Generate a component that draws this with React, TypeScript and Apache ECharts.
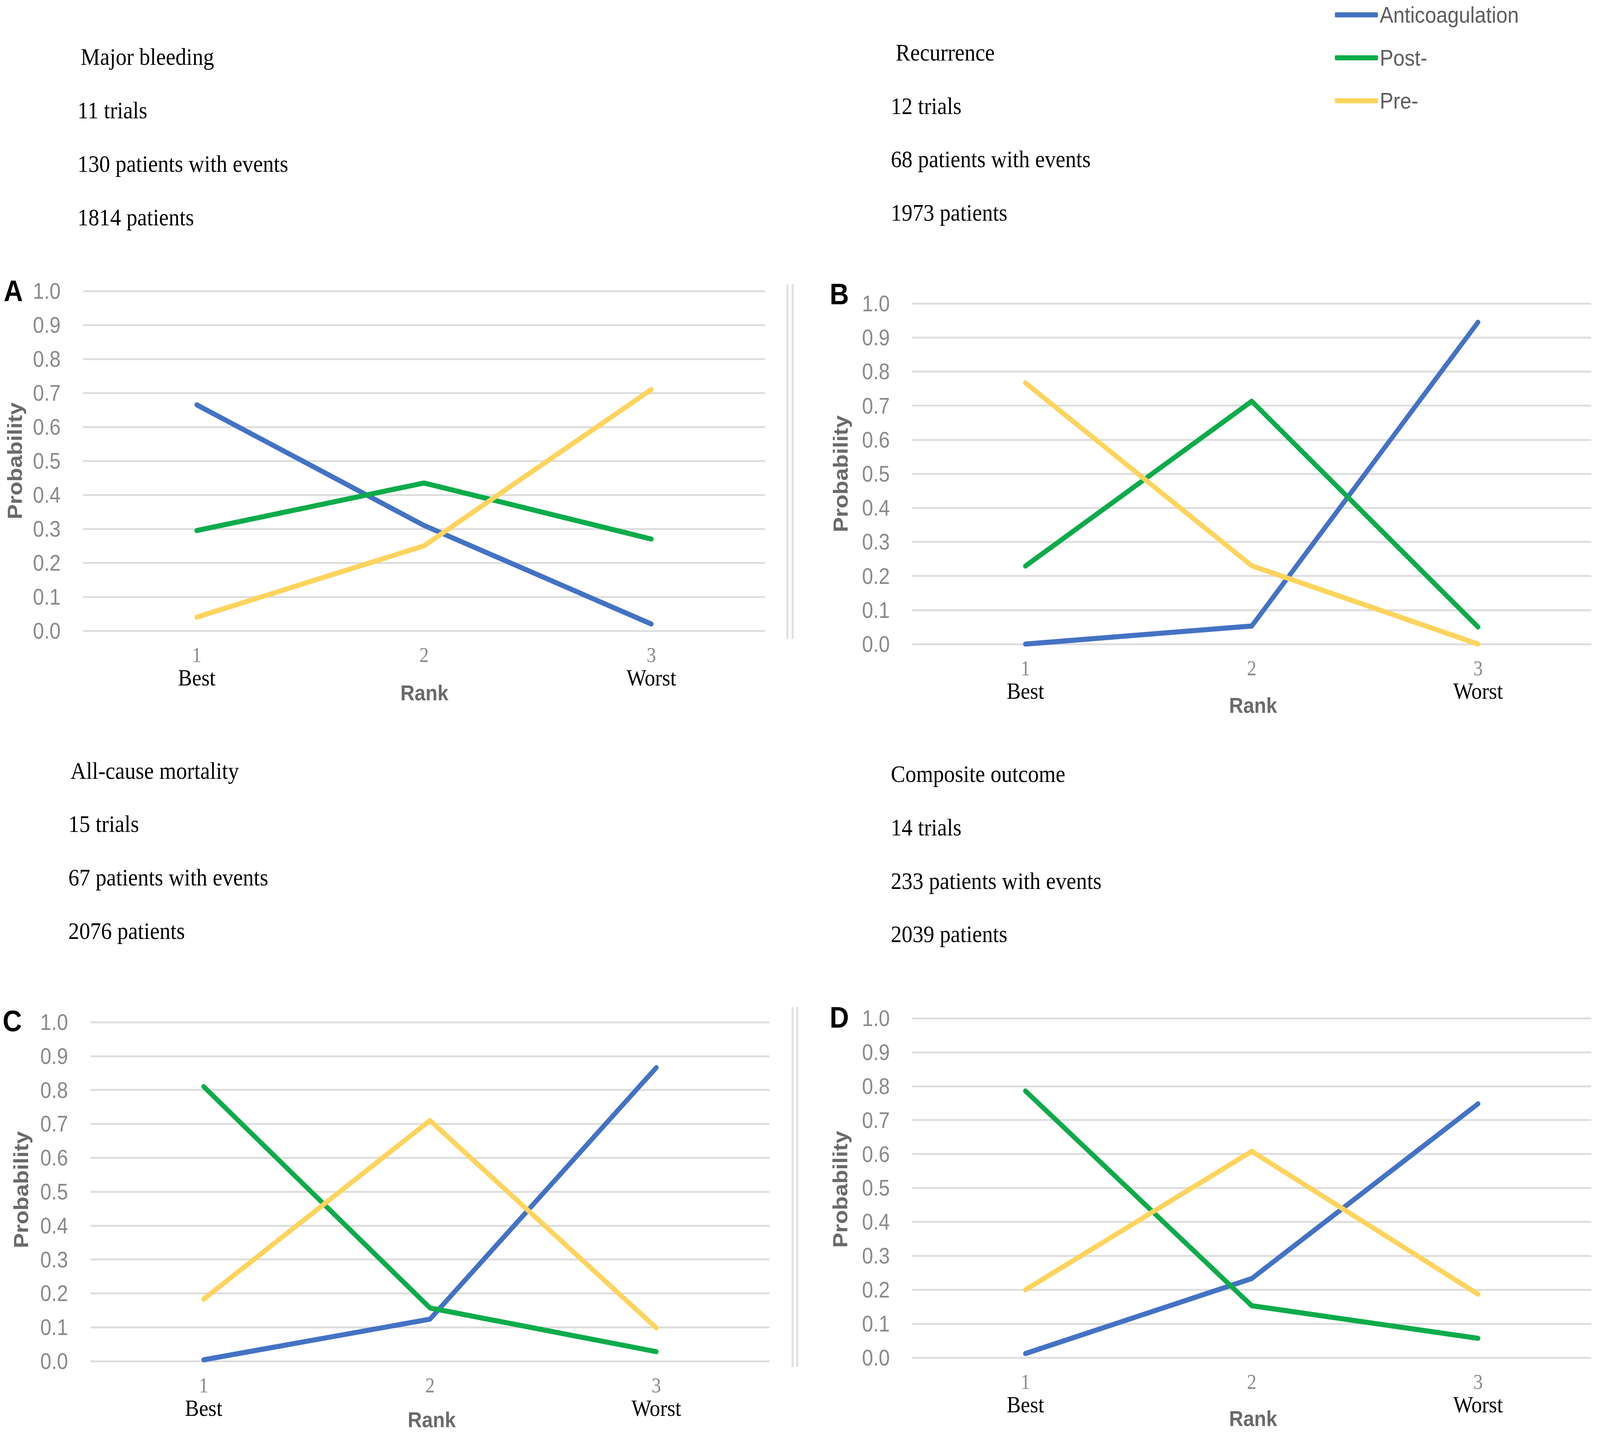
import React, { useEffect, useRef, useState } from "react";
import * as echarts from "echarts";

const W = 4562;
const H = 3674;

const ranks = ["1", "2", "3"];
const rankNotes = ["Best", "", "Worst"];
const seriesNames = ["Anticoagulation", "Post-", "Pre-"];
const seriesColors = ["#4472C4", "#0DAB4A", "#FDD45C"];

// Panel A – Major bleeding
const aAnticoag = [0.665, 0.31, 0.02];
const aPost = [0.295, 0.435, 0.27];
const aPre = [0.04, 0.25, 0.71];
// Panel B – Recurrence
const bAnticoag = [0.0, 0.053, 0.945];
const bPost = [0.229, 0.713, 0.05];
const bPre = [0.767, 0.23, 0.0];
// Panel C – All-cause mortality
const cAnticoag = [0.004, 0.124, 0.866];
const cPost = [0.81, 0.157, 0.028];
const cPre = [0.183, 0.71, 0.098];
// Panel D – Composite outcome
const dAnticoag = [0.012, 0.233, 0.748];
const dPost = [0.786, 0.153, 0.057];
const dPre = [0.2, 0.608, 0.187];

const panelLetters = ["A", "B", "C", "D"];
const panelInfo = [
  ["Major bleeding", "11 trials", "130 patients with events", "1814 patients"],
  ["Recurrence", "12 trials", "68 patients with events", "1973 patients"],
  ["All-cause mortality", "15 trials", "67 patients with events", "2076 patients"],
  ["Composite outcome", "14 trials", "233 patients with events", "2039 patients"],
];
const yAxisName = "Probability";
const xAxisName = "Rank";

const panelData = [
  [aAnticoag, aPost, aPre],
  [bAnticoag, bPost, bPre],
  [cAnticoag, cPost, cPre],
  [dAnticoag, dPost, dPre],
];

// layout (pixels in the 4562x3674 design space)
const grids = [
  { left: 237, top: 745, width: 1944, height: 870 },
  { left: 2601, top: 777, width: 1936, height: 872 },
  { left: 258, top: 2617, width: 1936, height: 868 },
  { left: 2601, top: 2607, width: 1936, height: 869 },
];
const letterPos = [
  [38, 745],
  [2393, 753],
  [35, 2614],
  [2393, 2605],
];
const probPos = [
  [42, 1180],
  [2397, 1213],
  [60, 3046],
  [2396, 3045],
];
const rankPos = [
  [1210, 1774],
  [3573, 1806],
  [1231, 3635],
  [3573, 3632],
];
const infoPos = [
  { x: [230, 221, 221, 221], y: [145, 282, 419, 556] },
  { x: [2554, 2540, 2540, 2540], y: [134, 271, 407, 544] },
  { x: [201, 195, 195, 195], y: [1973, 2109, 2246, 2383] },
  { x: [2540, 2540, 2540, 2540], y: [1981, 2118, 2255, 2391] },
];
const separators = [
  { xs: [2245, 2260], y1: 728, y2: 1636 },
  { xs: [2260, 2273], y1: 2578, y2: 3500 },
];

function getScale() {
  if (typeof window === "undefined") return [1, 1];
  const sw = window.innerWidth / W;
  const sh = window.innerHeight / H;
  return [sw > 0 ? sw : 1, sh > 0 ? sh : 1];
}

export default function App() {
  const ref = useRef<HTMLDivElement>(null);
  const [scale] = useState(getScale());

  useEffect(() => {
    document.body.style.margin = "0";
    document.body.style.overflow = "hidden";
    if (!ref.current) return;
    const chart = echarts.init(ref.current, null, { renderer: "svg" });

    const gridOpt = grids.map((g) => ({ ...g, containLabel: false }));

    const xAxes = grids.map((_, i) => ({
      type: "category",
      gridIndex: i,
      data: ranks,
      boundaryGap: true,
      axisLine: { show: false },
      axisTick: { show: false },
      splitLine: { show: false },
      axisLabel: {
        margin: 35,
        interval: 0,
        formatter: (v: string, idx: number) =>
          rankNotes[idx] ? `{n|${v}}\n{b|${rankNotes[idx]}}` : `{n|${v}}`,
        rich: {
          n: {
            fontFamily: "Liberation Serif",
            fontSize: 54,
            color: "#8A8A8A",
            lineHeight: 54,
            align: "center",
          },
          b: {
            fontFamily: "Liberation Serif",
            fontSize: 60,
            color: "#000000",
            lineHeight: 60,
            align: "center",
          },
        },
      },
    }));

    const yAxes = grids.map((_, i) => ({
      type: "value",
      gridIndex: i,
      min: 0,
      max: 1,
      interval: 0.1,
      axisLine: { show: false },
      axisTick: { show: false },
      axisLabel: {
        margin: 64,
        fontFamily: "Liberation Sans",
        fontSize: 57,
        color: "#8A8A8A",
        formatter: (v: number) => v.toFixed(1),
      },
      splitLine: { show: true, lineStyle: { color: "#DEDEDE", width: 5 } },
    }));

    const series: any[] = [];
    panelData.forEach((pd, pi) => {
      pd.forEach((vals, si) => {
        series.push({
          type: "line",
          name: seriesNames[si],
          xAxisIndex: pi,
          yAxisIndex: pi,
          data: vals,
          symbol: "none",
          smooth: false,
          color: seriesColors[si],
          lineStyle: { width: 13, color: seriesColors[si], cap: "round", join: "round" },
          z: 3 + si,
        });
      });
    });

    const graphics: any[] = [];
    panelLetters.forEach((l, i) => {
      graphics.push({
        type: "text",
        x: letterPos[i][0],
        y: letterPos[i][1],
        style: {
          text: l,
          fontFamily: "Liberation Sans",
          fontWeight: "bold",
          fontSize: 76,
          fill: "#000",
          align: "center",
          verticalAlign: "middle",
        },
      });
      graphics.push({
        type: "text",
        x: probPos[i][0],
        y: probPos[i][1],
        rotation: Math.PI / 2,
        style: {
          text: yAxisName,
          fontFamily: "Liberation Sans",
          fontWeight: "bold",
          fontSize: 58,
          fill: "#6A6A6A",
          align: "center",
          verticalAlign: "middle",
        },
      });
      graphics.push({
        type: "text",
        x: rankPos[i][0],
        y: rankPos[i][1],
        style: {
          text: xAxisName,
          fontFamily: "Liberation Sans",
          fontWeight: "bold",
          fontSize: 56,
          fill: "#6A6A6A",
          align: "center",
          verticalAlign: "middle",
        },
      });
      panelInfo[i].forEach((t, k) => {
        graphics.push({
          type: "text",
          x: infoPos[i].x[k],
          y: infoPos[i].y[k],
          style: {
            text: t,
            fontFamily: "Liberation Serif",
            fontSize: 62,
            fill: "#000",
            align: "left",
            verticalAlign: "middle",
          },
        });
      });
    });
    separators.forEach((s) => {
      s.xs.forEach((x) => {
        graphics.push({
          type: "line",
          shape: { x1: x, y1: s.y1, x2: x, y2: s.y2 },
          style: { stroke: "#E2E2E2", lineWidth: 6 },
        });
      });
    });

    chart.setOption({
      animation: false,
      backgroundColor: "#FFFFFF",
      grid: gridOpt,
      xAxis: xAxes,
      yAxis: yAxes,
      legend: {
        show: true,
        orient: "vertical",
        left: 3806,
        top: 9,
        padding: 0,
        itemWidth: 123,
        itemHeight: 13,
        itemGap: 52,
        icon: "roundRect",
        data: seriesNames,
        textStyle: {
          fontFamily: "Liberation Sans",
          fontSize: 58,
          color: "#5E5E5E",
        },
      },
      graphic: graphics,
      series,
    });

    return () => {
      chart.dispose();
    };
  }, []);

  return (
    <div
      style={{
        position: "absolute",
        left: 0,
        top: 0,
        width: W * scale[0],
        height: H * scale[1],
        overflow: "hidden",
        background: "#fff",
      }}
    >
      <div
        ref={ref}
        style={{
          position: "absolute",
          left: 0,
          top: 0,
          width: W,
          height: H,
          transform: `scale(${scale[0]}, ${scale[1]})`,
          transformOrigin: "0 0",
          background: "#fff",
        }}
      />
    </div>
  );
}
